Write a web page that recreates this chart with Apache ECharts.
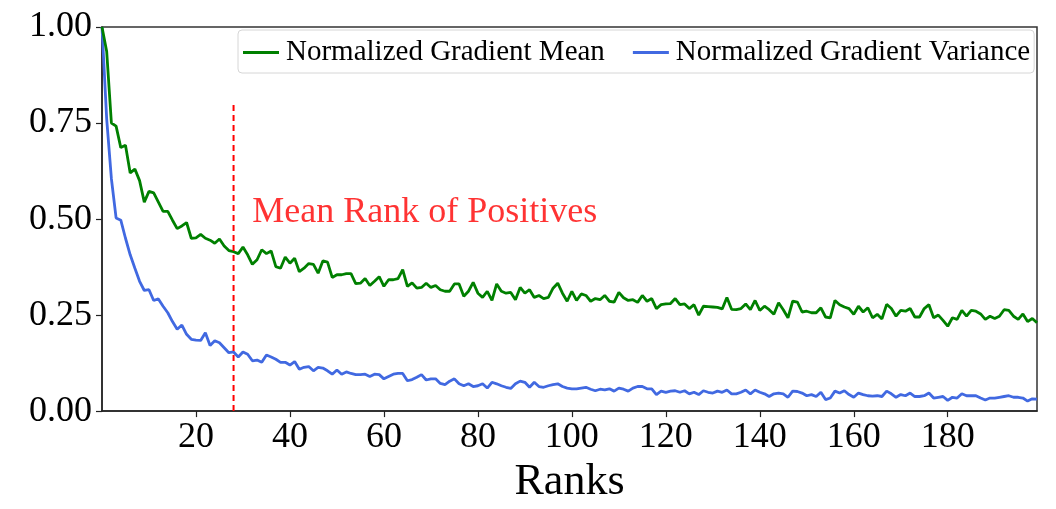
<!DOCTYPE html>
<html>
<head>
<meta charset="utf-8">
<script src="https://cdn.jsdelivr.net/npm/echarts@6/dist/echarts.min.js"></script>
<style>
html,body{margin:0;padding:0;background:#fff;}
#chart{width:1056px;height:509px;}
</style>
</head>
<body>
<div id="chart"></div>
<script>
// ---- data ----
const gradientMean = [
1.00,0.936,0.75,0.742,0.686,0.692,0.62,0.63,0.60,0.544,0.572,0.568,0.544,0.52,0.52,0.497,0.475,0.482,0.491,0.45,0.451,0.46,0.45,0.445,0.437,0.448,0.43,0.418,0.415,0.41,0.427,0.407,0.382,
0.394,0.42,0.41,0.417,0.376,0.372,0.401,0.385,0.398,0.363,0.372,0.384,0.382,0.359,0.391,0.388,0.348,0.355,0.355,0.358,0.358,0.332,0.333,0.345,0.327,0.338,0.35,0.325,0.342,0.342,0.345,0.368,0.325,0.334,
0.32,0.322,0.333,0.322,0.327,0.316,0.312,0.312,0.331,0.331,0.299,0.312,0.335,0.307,0.296,0.312,0.288,0.331,0.312,0.307,0.309,0.29,0.322,0.307,0.316,0.296,0.301,0.293,0.296,0.32,0.333,0.307,0.286,0.312,
0.288,0.305,0.301,0.286,0.293,0.29,0.301,0.286,0.284,0.309,0.295,0.288,0.29,0.283,0.301,0.286,0.293,0.267,0.277,0.279,0.28,0.293,0.277,0.279,0.267,0.277,0.25,0.273,0.272,0.271,0.27,0.266,0.296,
0.265,0.264,0.267,0.279,0.264,0.288,0.262,0.273,0.264,0.252,0.282,0.264,0.243,0.286,0.284,0.258,0.26,0.256,0.256,0.269,0.245,0.243,0.288,0.277,0.271,0.267,0.252,0.273,0.258,0.269,0.243,0.252,0.24,
0.278,0.267,0.247,0.262,0.26,0.267,0.245,0.245,0.267,0.277,0.243,0.25,0.236,0.221,0.243,0.239,0.262,0.247,0.262,0.26,0.253,0.239,0.247,0.241,0.247,0.264,0.262,0.247,0.239,0.253,0.233,0.241,0.23
];
const gradientVariance = [
1.00,0.76,0.605,0.503,0.497,0.45,0.407,0.372,0.338,0.314,0.316,0.288,0.292,0.273,0.256,0.233,0.213,0.224,0.2,0.187,0.185,0.184,0.204,0.171,0.183,0.178,0.165,0.152,0.154,0.141,0.154,0.148,0.131,0.133,
0.127,0.146,0.141,0.135,0.127,0.127,0.12,0.129,0.109,0.114,0.116,0.105,0.114,0.112,0.105,0.096,0.107,0.096,0.102,0.098,0.095,0.095,0.096,0.09,0.096,0.095,0.084,0.09,0.096,0.098,0.098,0.079,0.082,
0.088,0.095,0.081,0.084,0.084,0.072,0.069,0.078,0.084,0.071,0.066,0.071,0.064,0.066,0.071,0.06,0.075,0.071,0.066,0.062,0.059,0.071,0.078,0.075,0.062,0.075,0.064,0.062,0.066,0.069,0.071,0.064,0.06,0.058,
0.058,0.06,0.062,0.057,0.053,0.057,0.055,0.058,0.052,0.06,0.057,0.052,0.06,0.064,0.064,0.058,0.058,0.043,0.052,0.049,0.052,0.053,0.049,0.053,0.045,0.049,0.043,0.053,0.049,0.047,0.052,0.049,0.055,
0.045,0.045,0.049,0.055,0.045,0.055,0.049,0.045,0.038,0.045,0.047,0.045,0.036,0.052,0.051,0.047,0.04,0.043,0.038,0.049,0.03,0.034,0.052,0.047,0.053,0.043,0.036,0.047,0.043,0.04,0.039,0.04,0.038,
0.052,0.045,0.036,0.043,0.04,0.047,0.038,0.038,0.04,0.047,0.034,0.036,0.038,0.028,0.036,0.034,0.045,0.04,0.04,0.04,0.034,0.029,0.034,0.034,0.036,0.038,0.04,0.036,0.036,0.034,0.026,0.032,0.031
];
const xTickValues = [20, 40, 60, 80, 100, 120, 140, 160, 180];
const yTickValues = [0, 0.25, 0.5, 0.75, 1.0];
const meanRankOfPositives = 28;
const meanRankLineTop = 0.8;
const annotationText = 'Mean Rank of Positives';
const annotationAnchor = [32, 0.518];
const seriesNames = ['Normalized Gradient Mean', 'Normalized Gradient Variance'];
const xAxisName = 'Ranks';

// ---- chart ----
const FONT = '"Liberation Serif", "Times New Roman", serif';
const toXY = arr => arr.map((v, i) => [i, v]);
const chart = echarts.init(document.getElementById('chart'), null, {renderer: 'canvas'});
chart.setOption({
  animation: false,
  backgroundColor: '#fff',
  grid: {left: 102, right: 19, top: 27, bottom: 95, show: true, borderColor: '#333', borderWidth: 1.5, containLabel: false},
  legend: {
    data: seriesNames,
    left: 238, top: 30,
    icon: 'rect', itemWidth: 36, itemHeight: 3, itemGap: 28,
    padding: [8, 4, 6, 5],
    borderColor: '#d6d6d6', borderWidth: 1, borderRadius: 4,
    backgroundColor: 'rgba(255,255,255,0.85)',
    textStyle: {fontFamily: FONT, fontSize: 29, color: '#000', padding: [0, 0, 0, 2]}
  },
  xAxis: {
    type: 'value', min: 0, max: 199,
    name: xAxisName, nameLocation: 'middle', nameGap: 42,
    nameTextStyle: {fontFamily: FONT, fontSize: 44, color: '#000'},
    axisLine: {show: true, lineStyle: {color: '#222', width: 1.5}},
    axisTick: {show: true, inside: false, length: 6, customValues: xTickValues, lineStyle: {color: '#222', width: 1.2}},
    axisLabel: {customValues: xTickValues, fontFamily: FONT, fontSize: 36, color: '#000', margin: 8},
    splitLine: {show: false}
  },
  yAxis: {
    type: 'value', min: 0, max: 1, interval: 0.25,
    axisLine: {show: true, lineStyle: {color: '#222', width: 1.5}},
    axisTick: {show: true, inside: false, length: 6, customValues: yTickValues, lineStyle: {color: '#222', width: 1.2}},
    axisLabel: {customValues: yTickValues, fontFamily: FONT, fontSize: 36, color: '#000', margin: 10,
      formatter: v => v.toFixed(2)},
    splitLine: {show: false}
  },
  series: [
    {name: seriesNames[0], type: 'line', data: toXY(gradientMean), showSymbol: false, symbol: 'none',
      lineStyle: {color: '#008000', width: 2.8}, itemStyle: {color: '#008000'}, z: 3},
    {name: seriesNames[1], type: 'line', data: toXY(gradientVariance), showSymbol: false, symbol: 'none',
      lineStyle: {color: '#4169e1', width: 2.8}, itemStyle: {color: '#4169e1'}, z: 2},
    {name: 'meanRank', type: 'line', data: [[meanRankOfPositives, 0], [meanRankOfPositives, meanRankLineTop]],
      symbol: 'none', lineStyle: {color: '#ff0000', width: 2, type: [6, 4]}, z: 4, silent: true},
    {name: 'annotation', type: 'scatter', data: [annotationAnchor], symbolSize: 0, silent: true,
      label: {show: true, position: 'right', distance: 0, formatter: annotationText,
        fontFamily: FONT, fontSize: 36, color: '#ff0000'}}
  ]
});
</script>
</body>
</html>
